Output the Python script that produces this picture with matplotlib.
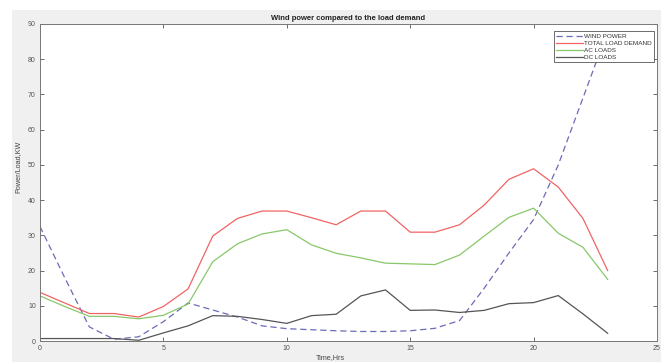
import numpy as np
import matplotlib
matplotlib.use("Agg")
import matplotlib.pyplot as plt
from matplotlib.patches import Rectangle

plt.rcParams["font.family"] = ["Liberation Sans", "DejaVu Sans"]

# hourly profile (0..23 h)
hours = list(range(24))
wind_power = [32.5, 18, 4, 0.5, 1.2, 5.5, 10.8, 8.8, 6.8, 4.3, 3.5, 3.2,
              2.9, 2.7, 2.7, 2.9, 3.6, 5.8, 15, 25, 34.5, 50, 69, 88]
total_load = [13.8, 10.8, 7.8, 7.8, 6.8, 9.8, 14.8, 29.8, 34.8, 36.9, 36.9, 35,
              33, 36.9, 36.9, 30.9, 30.9, 33, 38.6, 45.9, 48.9, 43.7, 34.8, 20]
ac_loads = [12.8, 9.8, 7.0, 7.0, 6.3, 7.3, 10.5, 22.5, 27.6, 30.4, 31.6, 27.3,
            24.9, 23.6, 22.1, 21.9, 21.7, 24.4, 29.8, 35.1, 37.7, 30.6, 26.6, 17.5]
dc_loads = [0.7, 0.7, 0.7, 0.7, 0.2, 2.3, 4.3, 7.2, 7.0, 6.1, 5.0, 7.2,
            7.6, 12.8, 14.5, 8.7, 8.8, 8.1, 8.7, 10.6, 10.9, 12.9, 7.7, 2.2]

legend_labels = ["WIND POWER", "TOTAL LOAD DEMAND", "AC LOADS", "DC LOADS"]

fig = plt.figure(figsize=(6.61, 3.62), dpi=100, facecolor="white")
# window-grey backdrop behind the axes
fig.patches.append(Rectangle((12 / 661, 0), 1, 1 - 10 / 362, transform=fig.transFigure,
                             facecolor="#f0f0f0", edgecolor="none", zorder=-10))

ax = fig.add_axes([40 / 661, 21 / 362, 617 / 661, 317 / 362])
ax.set_facecolor("white")

ax.plot(hours, wind_power, color="#6b6bb8", lw=0.9, ls=(0, (5, 3)), label=legend_labels[0])
ax.plot(hours, total_load, color="#f06464", lw=0.9, label=legend_labels[1])
ax.plot(hours, ac_loads, color="#88c86a", lw=0.9, label=legend_labels[2])
ax.plot(hours, dc_loads, color="#555555", lw=0.9, label=legend_labels[3])

ax.set_xlim(0, 25)
ax.set_ylim(0, 90)
ax.set_xticks([0, 5, 10, 15, 20, 25])
ax.set_yticks(range(0, 91, 10))
ax.tick_params(direction="in", length=3, width=0.6, top=True, right=True,
               labelsize=5, colors="#555555", labelcolor="#555555", pad=3)
for s in ax.spines.values():
    s.set_color("#777777")
    s.set_linewidth(0.7)

ax.set_title("Wind power compared to the load demand", fontsize=5.5,
             fontweight="bold", color="#222222", pad=3)
ax.set_xlabel("Time,Hrs", fontsize=5.2, color="#444444")
ax.set_ylabel("Power/Load,KW", fontsize=5.2, color="#444444")
ax.xaxis.set_label_coords(0.47, -0.042)
ax.yaxis.set_label_coords(-0.03, 0.55)

leg = ax.legend(loc="upper right", bbox_to_anchor=(0.995, 0.977), fontsize=4.6,
                frameon=True, fancybox=False, framealpha=1, edgecolor="#555555",
                handlelength=4.2, handletextpad=0.2, borderpad=0.35,
                labelspacing=0.25, borderaxespad=0)
leg.get_frame().set_linewidth(0.6)
for t in leg.get_texts():
    t.set_color("#333333")

fig.savefig("out.png", dpi=100, facecolor=fig.get_facecolor())
